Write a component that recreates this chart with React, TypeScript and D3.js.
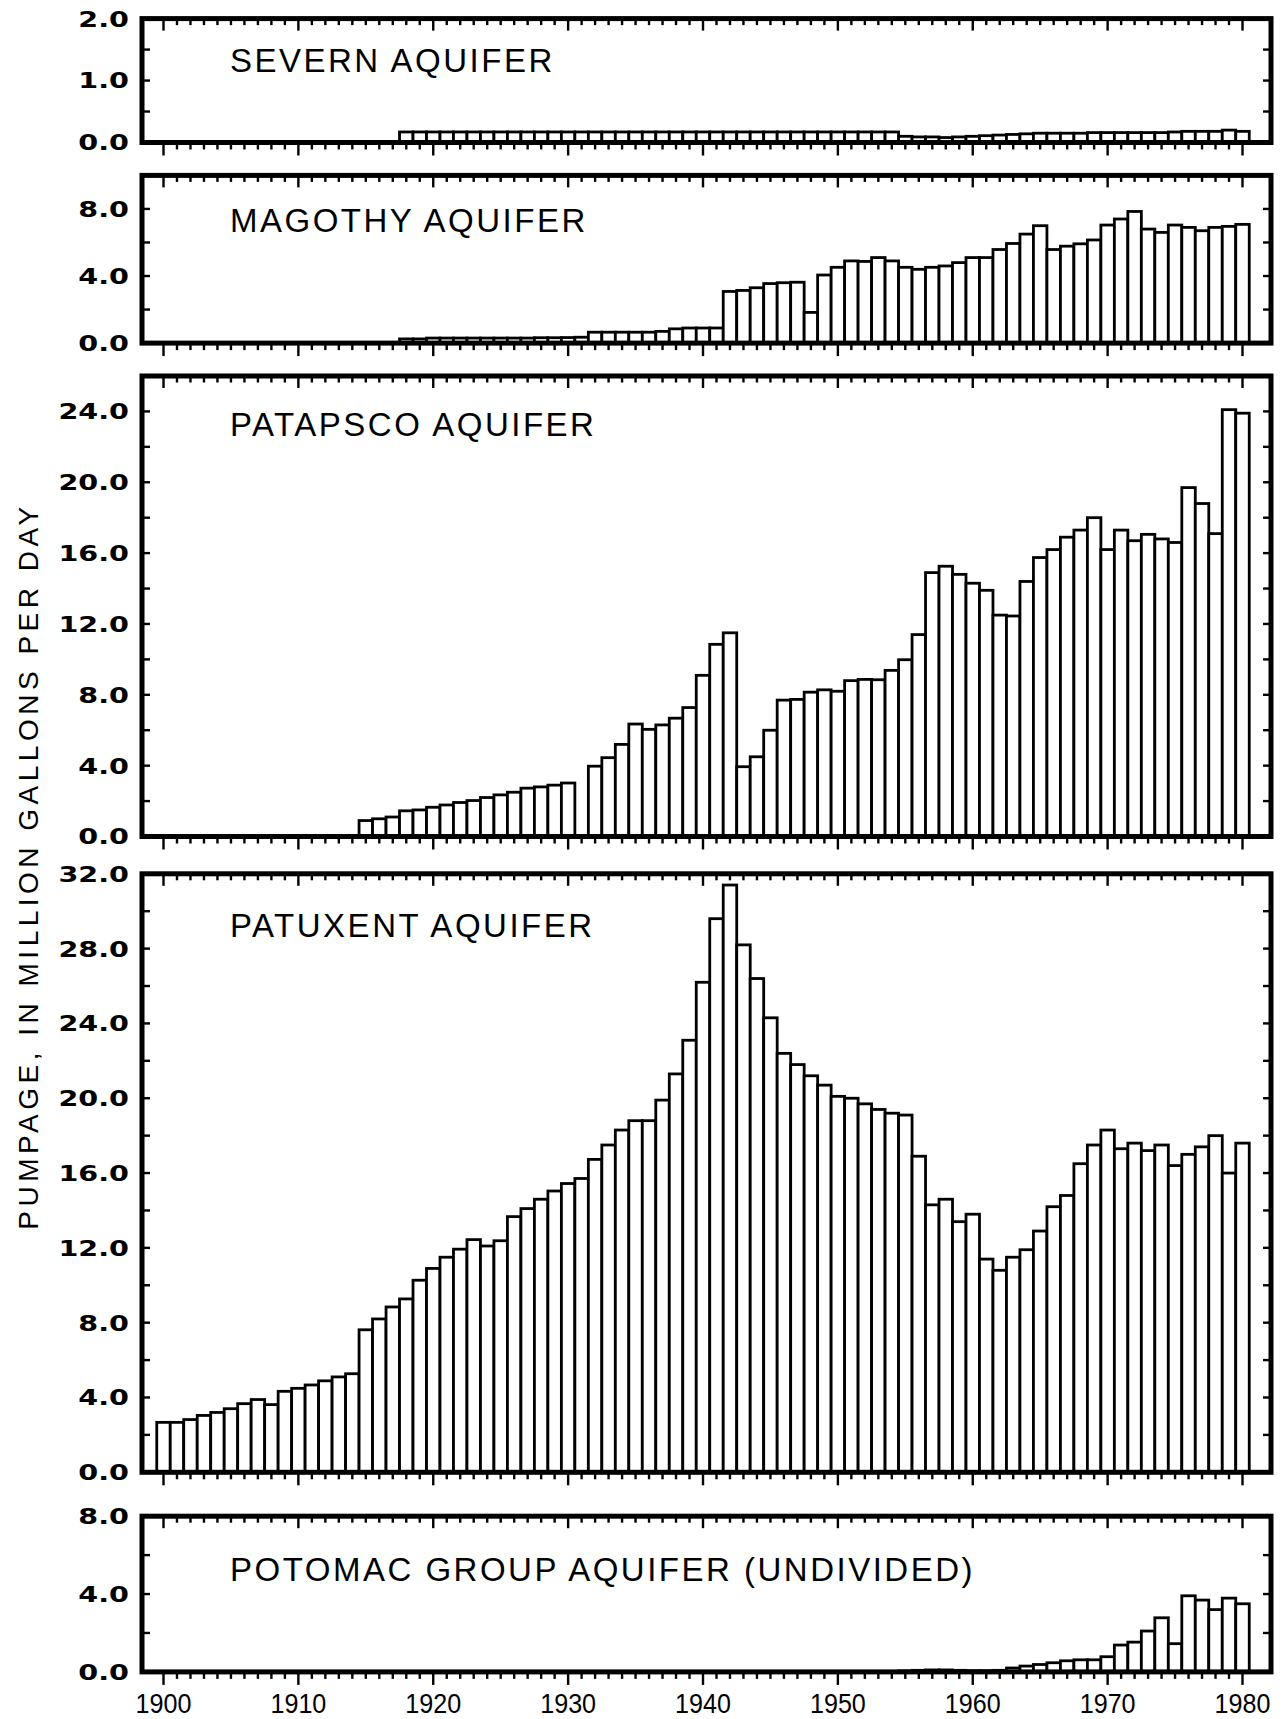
import React from 'react';
import * as d3 from 'd3';

// ---------------- DATA ----------------
const decadeLabels = ['1900', '1910', '1920', '1930', '1940', '1950', '1960', '1970', '1980'];
const firstYear = 1900;
const lastYear = 1980;

const aquiferNames = [
  'SEVERN AQUIFER',
  'MAGOTHY AQUIFER',
  'PATAPSCO AQUIFER',
  'PATUXENT AQUIFER',
  'POTOMAC GROUP AQUIFER (UNDIVIDED)',
];

const severnStart = 1918;
const severnValues = [
  0.17, 0.17, 0.17, 0.17, 0.17, 0.17, 0.17, 0.17, 0.17, 0.17, // 1918-1927
  0.17, 0.17, 0.17, 0.17, 0.17, 0.17, 0.17, 0.17, 0.17, 0.17, // 1928-1937
  0.17, 0.17, 0.17, 0.17, 0.17, 0.17, 0.17, 0.17, 0.17, 0.17, // 1938-1947
  0.17, 0.17, 0.17, 0.17, 0.17, 0.17, 0.17,                   // 1948-1954
  0.10, 0.09, 0.09, 0.08, 0.09, 0.10, 0.11, 0.12, 0.13, 0.14, // 1955-1964
  0.15, 0.15, 0.15, 0.15, 0.16, 0.16, 0.16, 0.16, 0.16, 0.16, // 1965-1974
  0.17, 0.18, 0.18, 0.18, 0.20, 0.18,                         // 1975-1980
];

const magothyStart = 1918;
const magothyValues = [
  0.25, 0.25, 0.3, 0.3, 0.3, 0.3, 0.3, 0.3, 0.3, 0.3,        // 1918-1927
  0.32, 0.32, 0.33, 0.35, 0.65, 0.65, 0.65, 0.65, 0.65, 0.7, // 1928-1937
  0.85, 0.9, 0.9, 0.9, 3.08, 3.14, 3.3, 3.55, 3.6, 3.63,     // 1938-1947
  1.83, 4.06, 4.52, 4.9, 4.87, 5.1, 4.9, 4.52, 4.4, 4.52,    // 1948-1957
  4.6, 4.8, 5.1, 5.1, 5.58, 5.94, 6.5, 7.0, 5.58, 5.78,      // 1958-1967
  5.92, 6.15, 7.04, 7.4, 7.85, 6.8, 6.6, 7.04, 6.9, 6.7,     // 1968-1977
  6.9, 6.96, 7.08,                                           // 1978-1980
];

const patapscoStart = 1915;
const patapscoValues = [
  0.9, 1.0, 1.1, 1.45, 1.5, 1.65, 1.78, 1.92, 2.03, 2.2,     // 1915-1924
  2.35, 2.5, 2.73, 2.8, 2.9, 3.02, 0, 3.97, 4.45, 5.2,       // 1925-1934
  6.35, 6.05, 6.3, 6.68, 7.28, 9.1, 10.85, 11.5, 3.94, 4.5,  // 1935-1944
  6.0, 7.7, 7.74, 8.15, 8.28, 8.2, 8.8, 8.87, 8.85, 9.38,    // 1945-1954
  9.98, 11.4, 14.9, 15.26, 14.8, 14.3, 13.9, 12.5, 12.45, 14.4, // 1955-1964
  15.75, 16.2, 16.9, 17.3, 18.0, 16.2, 17.3, 16.7, 17.06, 16.8, // 1965-1974
  16.6, 19.7, 18.8, 17.1, 24.1, 23.9,                        // 1975-1980
];

const patuxentStart = 1900;
const patuxentValues = [
  2.67, 2.67, 2.82, 3.04, 3.2, 3.4, 3.67, 3.89, 3.62, 4.33,  // 1900-1909
  4.49, 4.67, 4.89, 5.1, 5.27, 7.62, 8.2, 8.84, 9.27, 10.27, // 1910-1919
  10.9, 11.5, 11.93, 12.44, 12.1, 12.38, 13.67, 14.1, 14.6, 15.04, // 1920-1929
  15.44, 15.71, 16.73, 17.5, 18.3, 18.8, 18.8, 19.9, 21.3, 23.1,   // 1930-1939
  26.2, 29.6, 31.4, 28.2, 26.4, 24.3, 22.4, 21.8, 21.2, 20.7,      // 1940-1949
  20.1, 20.0, 19.7, 19.4, 19.2, 19.1, 16.9, 14.3, 14.6, 13.4,      // 1950-1959
  13.8, 11.4, 10.8, 11.5, 11.9, 12.9, 14.2, 14.8, 16.5, 17.5,      // 1960-1969
  18.3, 17.3, 17.6, 17.2, 17.5, 16.4, 17.0, 17.4, 18.0, 16.0,      // 1970-1979
  17.6,                                                            // 1980
];

const potomacStart = 1955;
const potomacValues = [
  0.05, 0.08, 0.1, 0.1, 0.08, 0.06, 0.06, 0.08, 0.2, 0.3,    // 1955-1964
  0.38, 0.47, 0.57, 0.62, 0.62, 0.78, 1.38, 1.53, 2.1, 2.78, // 1965-1974
  1.45, 3.91, 3.69, 3.2, 3.79, 3.5,                          // 1975-1980
];

const seriesStarts = [severnStart, magothyStart, patapscoStart, patuxentStart, potomacStart];
const seriesValues = [severnValues, magothyValues, patapscoValues, patuxentValues, potomacValues];

const axisMax = [2, 10, 26, 32, 8];
const axisLabelTicks = [
  [0, 1, 2],
  [0, 4, 8],
  [0, 4, 8, 12, 16, 20, 24],
  [0, 4, 8, 12, 16, 20, 24, 28, 32],
  [0, 4, 8],
];
const axisMinorTicks = [
  [0.5, 1.5],
  [2, 6],
  [2, 6, 10, 14, 18, 22],
  [2, 6, 10, 14, 18, 22, 26, 30],
  [2, 6],
];

const yAxisTitle = 'PUMPAGE, IN MILLION GALLONS PER DAY';

// ---------------- LAYOUT ----------------
const W = 1286;
const H = 1719;
const frameLeft = 142;
const frameRight = 1271;
const panelTop = [18.6, 175.4, 376, 873.8, 1516.2];
const panelBottom = [142.5, 343.1, 836.5, 1472.3, 1671.9];
const titleBaseline = [72, 232, 436, 937, 1581];
const titleX = 230;

const FONT = '"Liberation Sans", Arial, Helvetica, sans-serif';
const BOLD_FONT = '"DejaVu Sans", "Liberation Sans", Arial, sans-serif';

export default function App() {
  const x = d3.scaleLinear().domain([1900, 1980]).range([163.5, 1242.5]);
  const allYears = d3.range(firstYear, lastYear + 1);

  return (
    <svg
      width={W}
      height={H}
      viewBox={`0 0 ${W} ${H}`}
      style={{ position: 'absolute', left: 0, top: 0, background: '#fff' }}
    >
      <rect x={0} y={0} width={W} height={H} fill="#fff" />
      {aquiferNames.map((name, p) => {
        const y = d3.scaleLinear().domain([0, axisMax[p]]).range([panelBottom[p], panelTop[p]]);
        const start = seriesStarts[p];
        const vals = seriesValues[p];
        const top = panelTop[p];
        const bottom = panelBottom[p];
        return (
          <g key={name}>
            {/* bars */}
            {vals.map((v, i) => {
              const yr = start + i;
              if (v <= 0) return null;
              const x0 = x(yr - 0.5);
              const x1 = x(yr + 0.5);
              return (
                <rect
                  key={yr}
                  x={x0}
                  y={y(v)}
                  width={x1 - x0}
                  height={y(0) - y(v)}
                  fill="#fff"
                  stroke="#000"
                  strokeWidth={2.8}
                />
              );
            })}
            {/* x ticks */}
            {allYears.map((yr) => {
              const major = yr % 10 === 0;
              const xx = x(yr);
              return (
                <g key={yr}>
                  <line x1={xx} x2={xx} y1={top} y2={top + (major ? 12 : 6.5)} stroke="#000" strokeWidth={2.4} />
                  <line x1={xx} x2={xx} y1={bottom} y2={bottom + (major ? 13 : 7)} stroke="#000" strokeWidth={2.4} />
                </g>
              );
            })}
            {/* y ticks */}
            {[...axisLabelTicks[p], ...axisMinorTicks[p]]
              .filter((t) => t > 0 && t < axisMax[p])
              .map((t) => (
                <g key={t}>
                  <line x1={frameLeft} x2={frameLeft + 8} y1={y(t)} y2={y(t)} stroke="#000" strokeWidth={2.4} />
                  <line x1={frameRight - 8} x2={frameRight} y1={y(t)} y2={y(t)} stroke="#000" strokeWidth={2.4} />
                </g>
              ))}
            {/* frame */}
            <rect
              x={frameLeft}
              y={top}
              width={frameRight - frameLeft}
              height={bottom - top}
              fill="none"
              stroke="#000"
              strokeWidth={5}
            />
            {/* y labels */}
            {axisLabelTicks[p].map((t) => (
              <text
                key={t}
                transform={`translate(129, ${y(t)}) scale(1.3, 1)`}
                x={0}
                y={0}
                dy="0.36em"
                textAnchor="end"
                fontFamily={BOLD_FONT}
                fontWeight="bold"
                fontSize={22}
                fill="#000"
              >
                {d3.format('.1f')(t)}
              </text>
            ))}
            {/* title */}
            <text
              x={titleX}
              y={titleBaseline[p]}
              fontFamily={FONT}
              fontSize={33}
              letterSpacing={2.5}
              fill="#000"
            >
              {name}
            </text>
          </g>
        );
      })}
      {/* x labels */}
      {decadeLabels.map((lbl) => (
        <text
          key={lbl}
          transform={`translate(${x(+lbl)}, 1713) scale(0.93, 1)`}
          x={0}
          y={0}
          textAnchor="middle"
          fontFamily={FONT}
          fontSize={27}
          fill="#000"
        >
          {lbl}
        </text>
      ))}
      {/* y axis title */}
      <text
        transform={`translate(38, 866) rotate(-90)`}
        textAnchor="middle"
        fontFamily={FONT}
        fontSize={28}
        letterSpacing={4.5}
        fill="#000"
      >
        {yAxisTitle}
      </text>
    </svg>
  );
}
